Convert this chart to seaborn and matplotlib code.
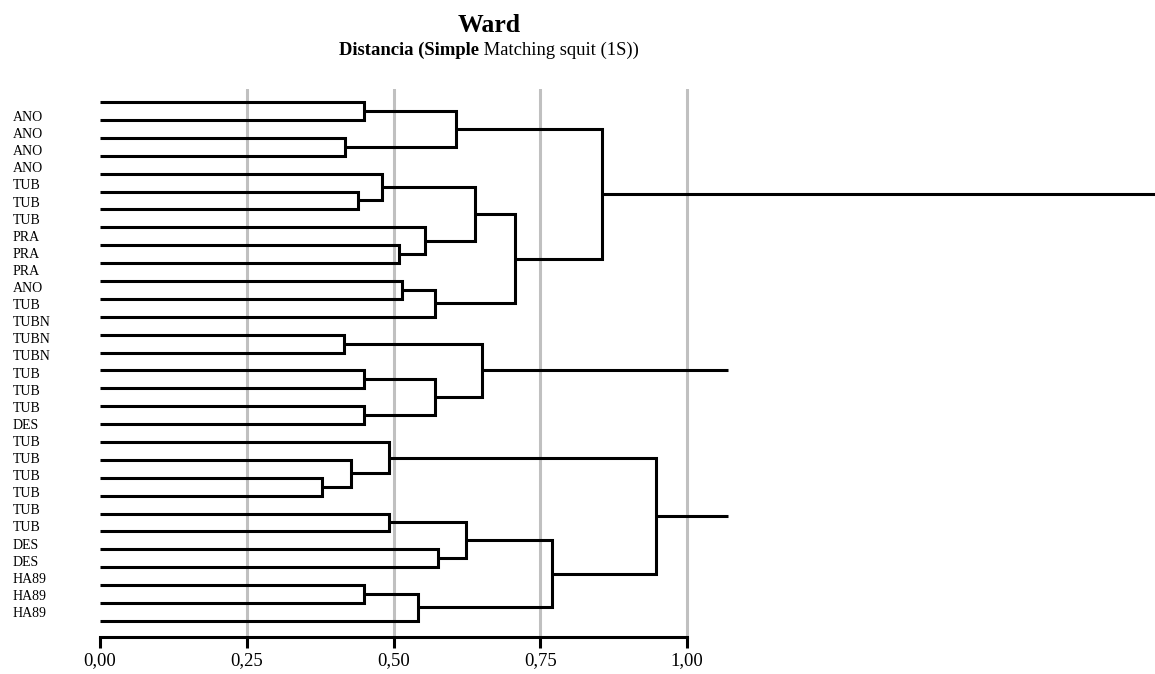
import numpy as np
import pandas as pd
import matplotlib
matplotlib.use("Agg")
import matplotlib.pyplot as plt
import seaborn as sns

# leaf labels, top to bottom
leaf_labels = (["ANO"] * 4 + ["TUB"] * 3 + ["PRA"] * 3 + ["ANO", "TUB"] + ["TUBN"] * 3
               + ["TUB"] * 3 + ["DES"] + ["TUB"] * 6 + ["DES"] * 2 + ["HA89"] * 3)

# merges (ids < 30 are leaves, 30+k is merge k)
merge_a = [0, 2, 30, 5, 4, 8, 7, 34, 10, 38, 37, 32,
           13, 15, 17, 43, 42,
           21, 20, 19, 23, 25, 50, 27, 53, 52, 49]
merge_b = [1, 3, 31, 6, 33, 9, 35, 36, 11, 12, 39, 40,
           14, 16, 18, 44, 45,
           22, 47, 48, 24, 26, 51, 28, 29, 54, 55]
merge_height = [0.449, 0.417, 0.607, 0.439, 0.481, 0.509, 0.554, 0.639, 0.515, 0.570, 0.707, 0.855,
                0.416, 0.449, 0.449, 0.570, 0.651,
                0.378, 0.427, 0.493, 0.493, 0.575, 0.624, 0.449, 0.542, 0.770, 0.947]

# the three top clusters and where their stems end
root_ids = [41, 46, 56]
root_tail = [1.80, 1.07, 1.07]

x_ticks = [0.0, 0.25, 0.50, 0.75, 1.00]
x_ticklabels = ["0,00", "0,25", "0,50", "0,75", "1,00"]

# build the dendrogram segments
n = len(leaf_labels)
node_y = list(range(n))
node_h = [0.0] * n
rows = []
seg = 0
for a, b, h in zip(merge_a, merge_b, merge_height):
    xs = [node_h[a], h, h, node_h[b]]
    ys = [node_y[a], node_y[a], node_y[b], node_y[b]]
    for i, (x, y) in enumerate(zip(xs, ys)):
        rows.append({"x": x, "y": y, "seg": seg, "order": i})
    seg += 1
    node_y.append((node_y[a] + node_y[b]) / 2)
    node_h.append(h)
for r, t in zip(root_ids, root_tail):
    rows.append({"x": node_h[r], "y": node_y[r], "seg": seg, "order": 0})
    rows.append({"x": t, "y": node_y[r], "seg": seg, "order": 1})
    seg += 1
df = pd.DataFrame(rows)

sns.set_theme(style="white")
plt.rcParams["font.family"] = ["Liberation Serif", "DejaVu Serif"]
plt.rcParams["text.color"] = "black"
plt.rcParams["xtick.color"] = "black"
plt.rcParams["ytick.color"] = "black"
plt.rcParams["xtick.labelcolor"] = "black"
plt.rcParams["ytick.labelcolor"] = "black"

W, H = 1155, 674
fig = plt.figure(figsize=(W / 100, H / 100), dpi=100)
ax = fig.add_axes([100 / W, (H - 637) / H, 1 - 100 / W, (637 - 89) / H])

for v in x_ticks[1:]:
    ax.axvline(v, color="#c0c0c0", lw=2.2, zorder=0)

sns.lineplot(data=df, x="x", y="y", units="seg", estimator=None, sort=False,
             color="black", linewidth=2.2, ax=ax, legend=False,
             solid_joinstyle="miter", solid_capstyle="butt")

ax.set_xlim(0, 1.797)
ax.set_ylim(29.9, -0.73)
ax.set_xlabel("")
ax.set_ylabel("")

ax.set_xticks(x_ticks)
ax.set_xticklabels(x_ticklabels, fontsize=13.5)
ax.tick_params(axis="x", direction="out", length=8, width=2.2, color="black", pad=3, bottom=True)

label_pos = np.linspace(0.78, 28.5, n)
ax.set_yticks(label_pos)
ax.set_yticklabels(leaf_labels, fontsize=10, ha="left")
ax.tick_params(axis="y", length=0, pad=63)

for s in ["top", "right", "left"]:
    ax.spines[s].set_visible(False)
ax.spines["bottom"].set_bounds(0, 1)
ax.spines["bottom"].set_linewidth(2.2)
ax.spines["bottom"].set_color("black")

fig.text(489 / W, 1 - 32 / H, "Ward", ha="center", va="baseline",
         fontsize=18.5, fontweight="bold", color="black")

# subtitle: bold part + regular part, centred together
renderer = fig.canvas.get_renderer()
t1 = fig.text(0, 1 - 55 / H, "Distancia (Simple", ha="left", va="baseline",
              fontsize=13.4, fontweight="bold", color="black")
t2 = fig.text(0, 1 - 55 / H, " Matching squit (1S))", ha="left", va="baseline",
              fontsize=13.4, color="black")
w1 = t1.get_window_extent(renderer).width / W
w2 = t2.get_window_extent(renderer).width / W
x0 = 489 / W - (w1 + w2) / 2
t1.set_x(x0)
t2.set_x(x0 + w1)

fig.savefig("out.png", dpi=100)
